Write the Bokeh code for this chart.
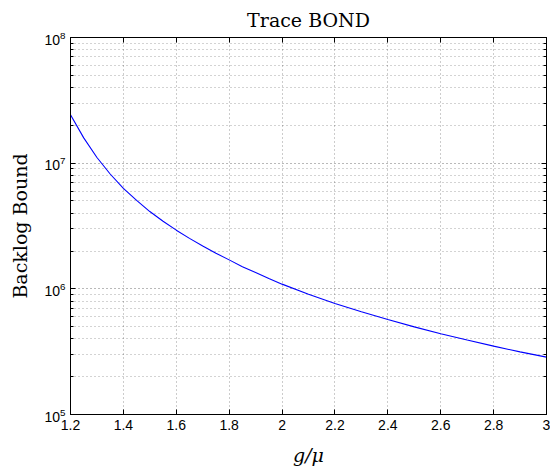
from bokeh.plotting import figure
from bokeh.models import (LogAxis, LinearAxis, FixedTicker, CustomJSTickFormatter,
                          Range1d, ColumnDataSource)
from bokeh.embed import file_html
from bokeh.resources import INLINE

# ---- data ----
g_mu = [1.2, 1.25, 1.3, 1.35, 1.4, 1.45, 1.5, 1.55, 1.6, 1.65, 1.7, 1.75,
        1.8, 1.85, 1.9, 1.95, 2.0, 2.1, 2.2, 2.3, 2.4, 2.5, 2.6, 2.7,
        2.8, 2.9, 3.0]
backlog_bound = [2.43e7, 1.59e7, 1.11e7, 8.2e6, 6.3e6, 5.05e6, 4.12e6, 3.45e6,
                 2.93e6, 2.52e6, 2.19e6, 1.92e6, 1.70e6, 1.50e6, 1.35e6, 1.21e6,
                 1.09e6, 9.05e5, 7.65e5, 6.57e5, 5.7e5, 4.98e5, 4.39e5, 3.91e5,
                 3.5e5, 3.15e5, 2.86e5]

x_ticks = [1.2, 1.4, 1.6, 1.8, 2.0, 2.2, 2.4, 2.6, 2.8, 3.0]
x_tick_labels = ["1.2", "1.4", "1.6", "1.8", "2", "2.2", "2.4", "2.6", "2.8", "3"]
y_ticks = [1e5, 1e6, 1e7, 1e8]
y_minor_mult = [2, 3, 4, 5, 6, 7, 8, 9]
y_minor_ticks = [m * d for d in [1e5, 1e6, 1e7] for m in y_minor_mult]

title_text = "Trace BOND"
x_label = "g/μ"
y_label = "Backlog Bound"

TICK_FONT = "Liberation Sans"
SERIF = "DejaVu Serif"

p = figure(width=550, height=474, output_backend="svg", toolbar_location=None,
           x_range=Range1d(1.2, 3.0), y_range=Range1d(1e5, 1e8),
           y_axis_type="log", title=title_text,
           min_border_left=70, min_border_right=4,
           min_border_top=37, min_border_bottom=60)
p.background_fill_color = "white"
p.border_fill_color = "white"
p.outline_line_color = "black"
p.outline_line_width = 1

p.title.align = "center"
p.title.text_font = SERIF
p.title.text_font_size = "19px"
p.title.text_font_style = "normal"
p.title.text_color = "black"
p.title.standoff = 13

src = ColumnDataSource(dict(x=g_mu, y=backlog_bound))
p.line("x", "y", source=src, line_color="#0000ff", line_width=1.1)

xt = FixedTicker(ticks=x_ticks, minor_ticks=[])
yt = FixedTicker(ticks=y_ticks, minor_ticks=y_minor_ticks)

xfmt = CustomJSTickFormatter(args=dict(xt_vals=x_ticks, xt_labels=x_tick_labels), code="""
    let best = 0, bd = 1e9;
    for (let i = 0; i < xt_vals.length; i++) {
        const d = Math.abs(xt_vals[i] - tick);
        if (d < bd) { bd = d; best = i; }
    }
    return xt_labels[best];
""")

xa = p.xaxis[0]
xa.ticker = xt
xa.formatter = xfmt
ya = p.yaxis[0]
ya.ticker = yt

for ax in (xa, ya):
    ax.axis_line_color = "black"
    ax.major_tick_line_color = "black"
    ax.minor_tick_line_color = "black"
    ax.major_tick_in = 5
    ax.major_tick_out = 0
    ax.minor_tick_in = 3
    ax.minor_tick_out = 0
    ax.major_label_text_font = TICK_FONT
    ax.major_label_text_font_size = "14px"
    ax.major_label_text_color = "black"
    ax.axis_label_text_font = SERIF
    ax.axis_label_text_font_size = "19px"
    ax.axis_label_text_font_style = "normal"
    ax.axis_label_text_color = "black"

xa.axis_label = x_label
xa.axis_label_text_font_style = "italic"
xa.major_label_standoff = 5
xa.axis_label_standoff = 11
ya.axis_label = y_label
ya.major_label_standoff = 5
ya.axis_label_standoff = 10

# mirror axes (box with inward ticks), no labels
blank = CustomJSTickFormatter(code="return '';")
ra = LogAxis(ticker=yt, formatter=blank, major_label_standoff=0,
             major_tick_in=5, major_tick_out=0, minor_tick_in=3, minor_tick_out=0,
             axis_line_color="black", major_tick_line_color="black",
             minor_tick_line_color="black")
ta = LinearAxis(ticker=xt, formatter=blank, major_label_standoff=0,
                major_tick_in=5, major_tick_out=0, minor_tick_in=0, minor_tick_out=0,
                axis_line_color="black", major_tick_line_color="black")
p.add_layout(ra, "right")
p.add_layout(ta, "above")

# grids: dotted
p.xgrid.ticker = xt
p.ygrid.ticker = yt
p.xgrid.grid_line_color = "black"
p.xgrid.grid_line_alpha = 0.4
p.xgrid.grid_line_dash = "1 3"
p.ygrid.grid_line_color = "black"
p.ygrid.grid_line_alpha = 0.55
p.ygrid.grid_line_dash = "1 3"
p.ygrid.minor_grid_line_color = "black"
p.ygrid.minor_grid_line_alpha = 0.35
p.ygrid.minor_grid_line_dash = "1 3"

open("out.html", "w").write(file_html(p, INLINE))
